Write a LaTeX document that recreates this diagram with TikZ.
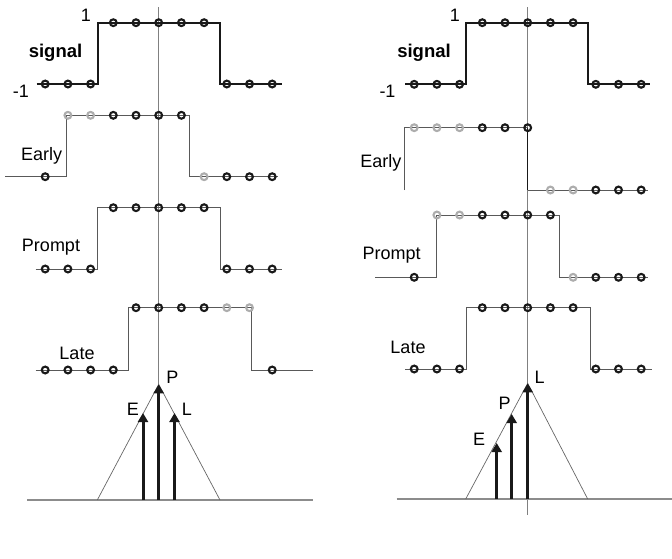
\documentclass[tikz,border=0pt]{standalone}
\usepackage{fontspec}
\setmainfont{Liberation Sans}
\usetikzlibrary{arrows.meta}
\begin{document}
\begin{tikzpicture}[x=1pt,y=-1pt,
  sig/.style={line width=2.2pt,draw=black!90,line join=miter},
  wave/.style={line width=1pt,draw=black!65},
  axis/.style={line width=1pt,draw=black!50},
  base/.style={line width=1.3pt,draw=black!45},
  tri/.style={line width=0.7pt,draw=black!60},
  blk/.style={draw=black!90,line width=2.1pt},
  gry/.style={draw=black!32,line width=2.1pt},
  corr/.style={line width=3pt,draw=black!90,-{Triangle[length=9pt,width=10pt]}},
  lbl/.style={font=\fontsize{18}{20}\selectfont,inner sep=0pt},
  bold/.style={font=\fontsize{18.5}{20}\selectfont\bfseries,inner sep=0pt}]
\useasboundingbox (0,0) rectangle (672,558);
\def\s{22.7}
\def\r{3.4pt}

% ---------------- left panel ----------------
\def\xo{158.7}
\draw[axis] (\xo,7) -- (\xo,384);

% reference signal
\draw[sig] (36.7,84) -- (97.7,84) -- (97.7,22.7) -- (220,22.7) -- (220,84) -- (281.7,84);
\foreach \n/\yy/\c in {-5/84/blk,-4/84/blk,-3/84/blk,-2/22.7/blk,-1/22.7/blk,0/22.7/blk,1/22.7/blk,2/22.7/blk,3/84/blk,4/84/blk,5/84/blk}
  \draw[\c] ({\xo+\n*\s},\yy) circle[radius=\r];
\node[lbl] (one1) at (86,15) {1};
\node[lbl] (mone1) at (21,91) {-1};
\node[bold] (sig1) at (55.5,53) {signal};

% early replica
\draw[wave] (5,176.7) -- (66.7,176.7) -- (66.7,115.3) -- (189.3,115.3) -- (189.3,176.7) -- (278,176.7);
\foreach \n/\yy/\c in {-5/176.7/blk,-4/115.3/gry,-3/115.3/gry,-2/115.3/blk,-1/115.3/blk,0/115.3/blk,1/115.3/blk,2/176.7/gry,3/176.7/blk,4/176.7/blk,5/176.7/blk}
  \draw[\c] ({\xo+\n*\s},\yy) circle[radius=\r];
\node[lbl] (early1) at (41.7,155.5) {Early};

% prompt replica
\draw[wave] (35.7,269) -- (97.7,269) -- (97.7,207.7) -- (220,207.7) -- (220,269) -- (281.7,269);
\foreach \n/\yy/\c in {-5/269/blk,-4/269/blk,-3/269/blk,-2/207.7/blk,-1/207.7/blk,0/207.7/blk,1/207.7/blk,2/207.7/blk,3/269/blk,4/269/blk,5/269/blk}
  \draw[\c] ({\xo+\n*\s},\yy) circle[radius=\r];
\node[lbl] (prompt1) at (51,247) {Prompt};

% late replica
\draw[wave] (35.7,370) -- (128,370) -- (128,307.7) -- (251,307.7) -- (251,370) -- (313,370);
\foreach \n/\yy/\c in {-5/370/blk,-4/370/blk,-3/370/blk,-2/370/blk,-1/307.7/blk,0/307.7/blk,1/307.7/blk,2/307.7/blk,3/307.7/gry,4/307.7/gry,5/370/blk}
  \draw[\c] ({\xo+\n*\s},\yy) circle[radius=\r];
\node[lbl] (late1) at (77,353) {Late};

% correlation triangle with E, P, L outputs
\draw[base] (27,500) -- (313,500);
\draw[tri] (97.3,500) -- (\xo,384.3) -- (220,500);
\coordinate (e1b) at (143,500);   \coordinate (e1t) at (143,413);
\coordinate (p1b) at (\xo,500);   \coordinate (p1t) at (\xo,384.3);
\coordinate (l1b) at (174.5,500); \coordinate (l1t) at (174.5,413);
\draw[corr] (e1b) -- (e1t);
\draw[corr,line width=3.4pt] (p1b) -- (p1t);
\draw[corr] (l1b) -- (l1t);
\node[lbl] (E1) at (133,409) {E};
\node[lbl] (P1) at (172.5,377.5) {P};
\node[lbl] (L1) at (187,409) {L};

% ---------------- right panel ----------------
\def\xo{527.7}
\draw[axis] (\xo,7) -- (\xo,515);

% reference signal
\draw[sig] (405,84.3) -- (465.7,84.3) -- (465.7,22.7) -- (588.3,22.7) -- (588.3,84.3) -- (649.5,84.3);
\foreach \n/\yy/\c in {-5/84.3/blk,-4/84.3/blk,-3/84.3/blk,-2/22.7/blk,-1/22.7/blk,0/22.7/blk,1/22.7/blk,2/22.7/blk,3/84.3/blk,4/84.3/blk,5/84.3/blk}
  \draw[\c] ({\xo+\n*\s},\yy) circle[radius=\r];
\node[lbl] (one2) at (455,15) {1};
\node[lbl] (mone2) at (387.5,91) {-1};
\node[bold] (sig2) at (424,53) {signal};

% early replica (one chip ahead)
\draw[wave] (404.3,190) -- (404.3,127.7) -- (\xo,127.7);
\draw[line width=1.5pt,draw=black!90] (\xo,127.7) -- (\xo,190);
\draw[wave] (\xo,190) -- (648,190);
\foreach \n/\yy/\c in {-5/127.7/gry,-4/127.7/gry,-3/127.7/gry,-2/127.7/blk,-1/127.7/blk,0/127.7/blk,1/190/gry,2/190/gry,3/190/blk,4/190/blk,5/190/blk}
  \draw[\c] ({\xo+\n*\s},\yy) circle[radius=\r];
\node[lbl,anchor=east] (early2) at (401.5,163) {Early};

% prompt replica (half a chip ahead)
\draw[wave] (375,277.3) -- (436,277.3) -- (436,215) -- (559.3,215) -- (559.3,277.3) -- (648.3,277.3);
\foreach \n/\yy/\c in {-5/277.3/blk,-4/215/gry,-3/215/gry,-2/215/blk,-1/215/blk,0/215/blk,1/215/blk,2/277.3/gry,3/277.3/blk,4/277.3/blk,5/277.3/blk}
  \draw[\c] ({\xo+\n*\s},\yy) circle[radius=\r];
\node[lbl] (prompt2) at (391.7,255) {Prompt};

% late replica (aligned)
\draw[wave] (405,369) -- (466.7,369) -- (466.7,307.7) -- (590,307.7) -- (590,369) -- (651.7,369);
\foreach \n/\yy/\c in {-5/369/blk,-4/369/blk,-3/369/blk,-2/307.7/blk,-1/307.7/blk,0/307.7/blk,1/307.7/blk,2/307.7/blk,3/369/blk,4/369/blk,5/369/blk}
  \draw[\c] ({\xo+\n*\s},\yy) circle[radius=\r];
\node[lbl] (late2) at (408,347) {Late};

% correlation triangle with E, P, L outputs
\draw[base] (396.7,499) -- (672,499);
\draw[tri] (465.7,499) -- (\xo,383.3) -- (587.7,499);
\coordinate (e2b) at (496.7,499); \coordinate (e2t) at (496.7,443);
\coordinate (p2b) at (511.7,499); \coordinate (p2t) at (511.7,414);
\coordinate (l2b) at (\xo,499);   \coordinate (l2t) at (\xo,383.3);
\draw[corr] (e2b) -- (e2t);
\draw[corr] (p2b) -- (p2t);
\draw[corr,line width=3.4pt] (l2b) -- (l2t);
\node[lbl] (E2) at (479,439) {E};
\node[lbl] (P2) at (504.5,403.3) {P};
\node[lbl] (L2) at (539.5,377) {L};
\end{tikzpicture}
\end{document}
